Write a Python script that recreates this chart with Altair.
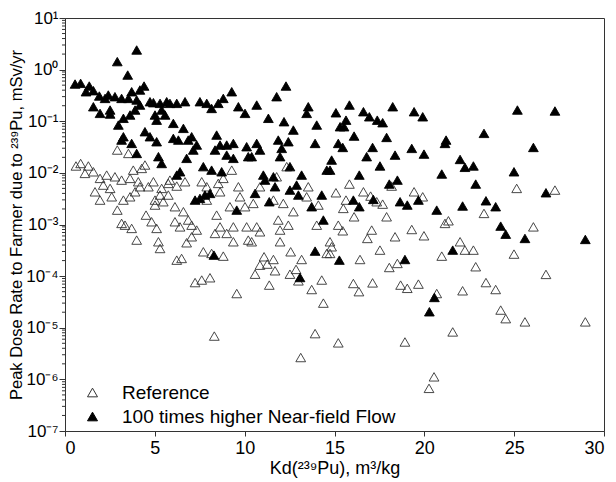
import altair as alt
import pandas as pd
import json

# ---- data ----
ref_x = [2.91,3.53,0.61,0.87,1.30,1.11,1.58,1.95,2.32,2.78,3.15,3.62,3.80,4.27,4.45,4.08,4.17,4.64,4.92,5.38,5.75,5.84,6.22,6.68,1.67,2.13,2.51,2.60,1.95,3.25,3.62,3.90,5.01,5.29,5.75,5.47,5.01,6.12,6.59,4.51,2.91,3.15,3.34,3.71,3.99,4.82,5.10,6.12,6.40,6.86,7.05,7.33,7.05,6.77,5.20,5.29,7.61,7.89,8.53,8.81,9.28,7.89,8.63,9.74,9.65,10.02,9.18,8.44,8.63,9.37,8.35,9.00,9.37,10.11,10.67,10.85,10.20,10.39,10.48,10.85,11.78,12.34,11.60,12.15,12.71,13.54,13.45,14.10,11.87,12.43,11.97,11.97,14.01,14.75,14.84,
         15.83,15.08,15.64,15.49,16.09,16.61,17.01,17.35,17.68,17.90,19.43,19.91,15.21,15.46,17.07,16.83,18.37,19.30,19.98,21.15,21.34,21.99,23.32,25.14,27.27,26.07,18.18,
         6.22,6.49,7.70,8.16,8.81,7.24,7.61,8.07,9.56,10.58,11.08,10.85,11.26,11.60,11.69,11.37,12.56,12.52,12.86,13.17,12.99,13.73,14.29,14.38,14.57,14.75,8.31,13.92,13.12,
         17.53,16.42,18.05,18.50,20.97,22.26,22.73,24.99,22.86,26.77,16.05,16.36,17.12,18.68,19.05,19.67,20.69,22.13,23.43,23.97,24.25,24.53,25.60,28.96,21.58,18.92,15.21,20.54,20.26]
ref_y = [0.0277,0.0238,0.0136,0.0152,0.0136,0.00977,0.0105,0.00782,0.00906,0.0084,0.00724,0.00782,0.0113,0.0122,0.0142,0.00673,0.00538,0.00538,0.00673,0.005,0.00625,0.00724,0.00555,0.00673,0.0043,0.0058,0.005,0.00344,0.00297,0.00297,0.00344,0.0043,0.00297,0.00372,0.00372,0.00276,0.00238,0.00221,0.00177,0.00152,0.0019,0.00105,0.00097,0.00084,0.000499,0.00113,0.00084,0.00113,0.0009,0.00122,0.00097,0.00078,0.000578,0.000443,0.000463,0.000343,0.00673,0.00538,0.00625,0.00782,0.0113,0.00297,0.0043,0.00344,0.00538,0.00221,0.00221,0.00152,0.0009,0.0009,0.000671,0.000671,0.000463,0.0009,0.0009,0.000722,0.000499,0.000463,0.00256,0.00538,0.0084,0.0132,0.00297,0.00256,0.00177,0.00538,0.00344,0.00238,0.00122,0.00097,0.00078,0.000463,0.00097,0.000463,0.00037,
         0.00607,0.00412,0.00297,0.00205,0.00141,0.0043,0.00355,0.00276,0.00248,0.00141,0.0043,0.00344,0.00097,0.000755,0.00078,0.000537,0.000578,0.0008,0.000605,0.00105,0.00118,0.000463,0.00164,0.005,0.00464,0.0009,0.00555,
         0.000204,0.00022,0.000296,0.000275,0.000244,7.5e-5,8.4e-5,9.3e-5,4.6e-5,0.000109,0.000237,0.000163,0.000171,0.00021,0.000127,6.7e-5,0.000296,0.000109,0.000135,0.00021,8.1e-5,5.5e-5,8.4e-5,3.0e-5,0.000275,0.000275,6.9e-6,7.7e-6,2.65e-6,
         0.000319,0.00021,0.000147,0.000176,0.000244,0.000319,0.000319,0.000267,0.000152,0.000108,7.2e-5,5.0e-5,7.4e-5,6.7e-5,5.8e-5,7.0e-5,4.6e-5,5.2e-5,7.5e-5,5.5e-5,2.2e-5,1.5e-5,1.3e-5,1.3e-5,8.3e-6,5.3e-6,5.1e-6,1.12e-6,6.7e-7]

flow_x = [3.99,2.91,3.49,0.56,0.87,1.35,1.58,1.17,1.91,2.23,2.41,2.78,3.15,3.53,3.71,4.17,4.40,3.99,4.17,4.73,4.92,5.29,5.66,5.84,6.22,6.68,7.51,7.89,8.16,8.53,8.81,9.28,9.65,10.02,10.67,11.32,11.78,12.30,12.19,12.71,13.54,13.45,14.01,15.31,
          1.58,1.95,2.51,2.51,3.25,2.97,3.62,3.90,5.10,5.01,5.38,5.57,6.03,6.59,4.45,4.73,5.10,6.03,6.31,6.86,7.05,7.33,7.14,6.77,5.20,5.38,3.25,3.15,3.71,3.99,8.44,8.63,9.00,9.37,8.35,9.00,9.37,10.11,10.67,10.85,10.20,10.39,11.87,12.43,12.06,11.97,13.92,7.70,8.16,8.72,6.40,6.22,11.04,11.13,11.60,11.69,12.52,13.17,12.89,12.52,12.99,13.73,14.29,14.57,7.24,7.51,7.79,8.07,9.56,10.58,11.37,14.38,
          15.08,15.83,15.64,15.53,16.61,16.94,17.38,17.68,18.24,19.43,19.91,16.09,17.90,15.21,15.46,17.12,16.79,18.37,19.30,19.98,17.53,14.84,14.75,16.38,18.05,18.50,21.21,21.15,21.99,22.26,22.73,20.97,22.86,23.32,25.18,27.27,26.07,24.99,26.77,16.05,16.38,17.16,18.65,19.05,19.67,20.69,22.13,23.43,23.97,24.25,24.53,25.60,28.96,
          8.29,13.92,13.08,15.27,18.92,21.58,20.56,20.28]
flow_y = [2.4,1.43,0.785,0.526,0.542,0.481,0.391,0.373,0.308,0.277,0.322,0.299,0.277,0.277,0.373,0.403,0.481,0.258,0.206,0.239,0.229,0.222,0.239,0.222,0.222,0.239,0.239,0.222,0.177,0.222,0.277,0.373,0.191,0.142,0.206,0.114,0.299,0.481,0.098,0.0675,0.191,0.142,0.0844,0.0783,
          0.191,0.142,0.165,0.138,0.114,0.0844,0.132,0.165,0.105,0.132,0.165,0.132,0.091,0.0728,0.0627,0.0501,0.0401,0.0466,0.0432,0.0432,0.0501,0.0346,0.0277,0.0191,0.0206,0.0152,0.0501,0.0432,0.0372,0.0238,0.054,0.0346,0.0346,0.0372,0.0277,0.0221,0.0191,0.0321,0.0372,0.0277,0.0206,0.0206,0.0432,0.0401,0.0298,0.0206,0.0372,0.0132,0.0113,0.0105,0.0105,0.00906,0.00906,0.00724,0.0084,0.00538,0.0132,0.00906,0.0058,0.00464,0.00372,0.00221,0.00372,0.0113,0.00297,0.0032,0.00372,0.004,0.0019,0.004,0.00276,0.00122,
          0.146,0.206,0.105,0.0783,0.153,0.122,0.105,0.0937,0.191,0.153,0.122,0.0516,0.0486,0.0372,0.0311,0.0311,0.0206,0.0221,0.0298,0.0231,0.0136,0.0177,0.0113,0.00906,0.00607,0.00724,0.0432,0.0372,0.0182,0.0128,0.0136,0.0095,0.00607,0.0582,0.165,0.158,0.0311,0.0105,0.00412,0.00297,0.00221,0.00306,0.00276,0.00238,0.00297,0.0019,0.00228,0.00288,0.00221,0.00093,0.00065,0.000537,0.000514,
          0.000255,0.000305,9.4e-5,0.000204,0.00021,0.000319,3.86e-5,2.04e-5]

series_names = ["Reference", "100 times higher Near-field Flow"]
x_ticks = [0, 5, 10, 15, 20, 25, 30]
y_ticks = [1e-7, 1e-6, 1e-5, 1e-4, 1e-3, 1e-2, 1e-1, 1e0, 1e1]
y_tick_labels = ["10⁻⁷", "10⁻⁶", "10⁻⁵", "10⁻⁴", "10⁻³", "10⁻²", "10⁻¹", "10⁰", "10¹"]
minor_ticks = [m * 10.0 ** k for k in range(-7, 1) for m in range(2, 10)]

df = pd.DataFrame({
    "kd": ref_x + flow_x,
    "dose": ref_y + flow_y,
    "series": [series_names[0]] * len(ref_x) + [series_names[1]] * len(flow_x),
})
minor_df = pd.DataFrame({"dose": minor_ticks})

FONT = "Liberation Sans"
label_expr = json.dumps(y_tick_labels, ensure_ascii=False) + "[round(log(datum.value)/LN10)+7]"
Y_TITLE = "Peak Dose Rate to Farmer due to ²³⁹Pu, mSv/yr"

yscale = alt.Scale(type="log", domain=[1e-7, 10], nice=False)
yaxis = alt.Axis(values=y_ticks, labelExpr=label_expr, grid=False,
                 tickSize=6, labelPadding=1, titlePadding=1, labelFontSize=17,
                 titleFontSize=16.5, title=Y_TITLE)

legend = alt.Legend(title=None, orient="none", legendX=18, legendY=365, labelLimit=0)

points = alt.Chart(df).mark_point(
    shape="triangle-up", size=95, filled=True, opacity=1, strokeWidth=0.9
).encode(
    x=alt.X("kd:Q", scale=alt.Scale(domain=[0, 30], nice=False),
            axis=alt.Axis(values=x_ticks, title="Kd(²³⁹Pu), m³/kg", grid=False,
                          tickSize=5, labelPadding=3, titlePadding=2, format="d")),
    y=alt.Y("dose:Q", scale=yscale, axis=yaxis),
    fill=alt.Fill("series:N", scale=alt.Scale(domain=series_names, range=["transparent", "black"]),
                  legend=legend),
    stroke=alt.Stroke("series:N", scale=alt.Scale(domain=series_names, range=["#333333", "black"]),
                      legend=legend),
)

minor = alt.Chart(minor_df).mark_rule(color="#333333", strokeWidth=1).encode(
    y=alt.Y("dose:Q", scale=yscale, axis=yaxis),
    x=alt.value(-3), x2=alt.value(0),
)

chart = alt.layer(points, minor).properties(
    width=539, height=413,
    autosize=alt.AutoSizeParams(type="none"),
    padding={"left": 57, "top": 10, "right": 4, "bottom": 50},
).configure_view(
    stroke="#333333", strokeWidth=1
).configure_axis(
    labelFont=FONT, titleFont=FONT, labelFontSize=18, titleFontSize=18,
    labelColor="black", titleColor="black", titleFontWeight="normal",
    domainColor="#333333", tickColor="#333333",
).configure_legend(
    labelFont=FONT, labelFontSize=19, labelColor="black", symbolSize=100,
    symbolStrokeWidth=1, labelOffset=20, rowPadding=4, symbolType="triangle-up",
)

chart.save("out.html", embed_options={"renderer": "svg", "actions": False})
